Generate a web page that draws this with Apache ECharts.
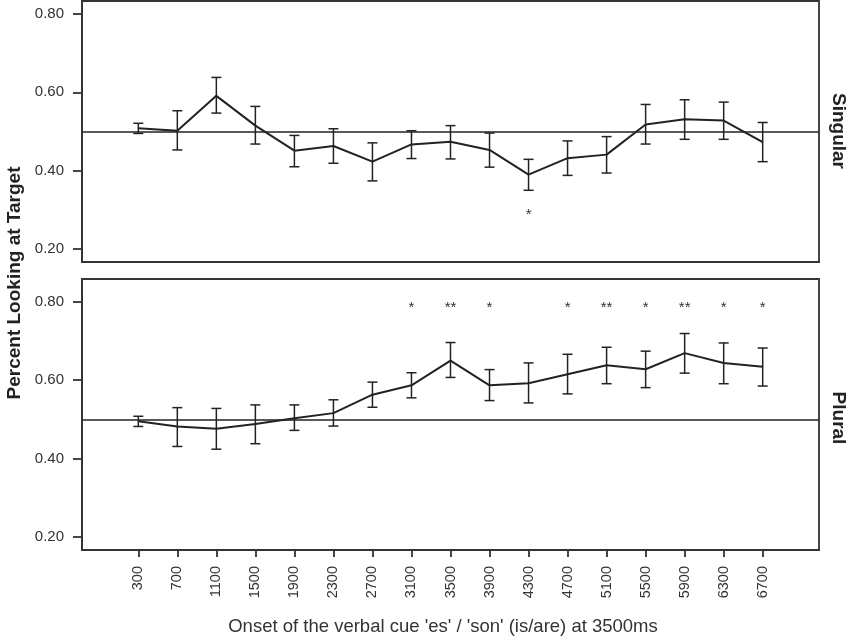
<!DOCTYPE html>
<html>
<head>
<meta charset="utf-8">
<script src="https://cdn.jsdelivr.net/npm/echarts@6/dist/echarts.min.js"></script>
<style>
  html, body { margin: 0; padding: 0; background: #fff; }
  #chart { width: 850px; height: 638px; }
</style>
</head>
<body>
<div id="chart"></div>
<script>
// Onset times (ms)
const times = [300, 700, 1100, 1500, 1900, 2300, 2700, 3100, 3500, 3900, 4300, 4700, 5100, 5500, 5900, 6300, 6700];

// Singular panel: mean and error-bar ends
const singularMean = [0.508, 0.502, 0.591, 0.515, 0.451, 0.463, 0.423, 0.467, 0.474, 0.453, 0.390, 0.432, 0.441, 0.518, 0.531, 0.528, 0.473];
const singularLow  = [0.495, 0.453, 0.547, 0.468, 0.410, 0.419, 0.374, 0.431, 0.430, 0.409, 0.350, 0.388, 0.394, 0.468, 0.480, 0.480, 0.423];
const singularHigh = [0.521, 0.553, 0.638, 0.564, 0.490, 0.507, 0.471, 0.502, 0.515, 0.496, 0.429, 0.476, 0.487, 0.569, 0.581, 0.575, 0.523];
const singularStars = ['', '', '', '', '', '', '', '', '', '', '*', '', '', '', '', '', ''];

// Plural panel
const pluralMean = [0.495, 0.482, 0.476, 0.488, 0.503, 0.516, 0.563, 0.587, 0.650, 0.587, 0.592, 0.615, 0.638, 0.628, 0.669, 0.644, 0.634];
const pluralLow  = [0.482, 0.431, 0.424, 0.438, 0.472, 0.483, 0.531, 0.555, 0.607, 0.548, 0.542, 0.565, 0.591, 0.581, 0.618, 0.591, 0.585];
const pluralHigh = [0.508, 0.530, 0.528, 0.537, 0.537, 0.550, 0.595, 0.619, 0.696, 0.627, 0.644, 0.666, 0.684, 0.674, 0.719, 0.695, 0.682];
const pluralStars = ['', '', '', '', '', '', '', '*', '**', '*', '', '*', '**', '*', '**', '*', '*'];

const yTicks = [0.2, 0.4, 0.6, 0.8];
const chanceLevel = 0.5;
const singularStarLevel = 0.289;
const pluralStarLevel = 0.787;

const FONT = "'Liberation Sans', Arial, sans-serif";
const INK = '#222';

const chart = echarts.init(document.getElementById('chart'));

function errorBarItem(params, api) {
    const x = api.value(0);
    const lo = api.coord([x, api.value(1)]);
    const hi = api.coord([x, api.value(2)]);
    const cap = 5;
    const style = { stroke: INK, lineWidth: 1.5 };
    return {
        type: 'group',
        children: [
            { type: 'line', shape: { x1: hi[0], y1: hi[1], x2: lo[0], y2: lo[1] }, style },
            { type: 'line', shape: { x1: hi[0] - cap, y1: hi[1], x2: hi[0] + cap, y2: hi[1] }, style },
            { type: 'line', shape: { x1: lo[0] - cap, y1: lo[1], x2: lo[0] + cap, y2: lo[1] }, style }
        ]
    };
}

// stars drawn as text above/below the points
function starSeries(idx, stars, level) {
    const keep = times.map((t, i) => i).filter(i => stars[i] !== '');
    const texts = keep.map(i => stars[i]);
    return {
        type: 'custom',
        xAxisIndex: idx,
        yAxisIndex: idx,
        encode: { x: 0, y: 1 },
        data: keep.map(i => [times[i], level]),
        z: 5,
        renderItem: (params, api) => {
            const p = api.coord([api.value(0), api.value(1)]);
            return {
                type: 'text',
                x: p[0],
                y: p[1] + 1,
                style: {
                    text: texts[params.dataIndex],
                    fill: '#333',
                    font: '15px ' + FONT,
                    align: 'center',
                    verticalAlign: 'middle'
                }
            };
        }
    };
}

function panelSeries(idx, mean, low, high, stars, starLevel) {
    return [
        {
            type: 'line',
            xAxisIndex: idx,
            yAxisIndex: idx,
            data: times.map((t, i) => [t, mean[i]]),
            symbol: 'none',
            lineStyle: { color: INK, width: 2 },
            z: 3,
            markLine: {
                silent: true,
                symbol: 'none',
                label: { show: false },
                lineStyle: { color: INK, width: 1.6, type: 'solid' },
                data: [{ yAxis: chanceLevel }]
            }
        },
        {
            type: 'custom',
            xAxisIndex: idx,
            yAxisIndex: idx,
            renderItem: errorBarItem,
            encode: { x: 0, y: [1, 2] },
            data: times.map((t, i) => [t, low[i], high[i]]),
            z: 4
        },
        starSeries(idx, stars, starLevel)
    ];
}

function yAxisFor(idx, max) {
    return {
        type: 'value',
        gridIndex: idx,
        min: 0.167,
        max: max,
        splitLine: { show: false },
        axisLine: { show: true, onZero: false, lineStyle: { color: '#333', width: 1.8 } },
        axisTick: { show: true, length: 9, customValues: yTicks, lineStyle: { color: '#333', width: 1.8 } },
        axisLabel: {
            customValues: yTicks,
            formatter: v => v.toFixed(2),
            margin: 18,
            color: '#333',
            fontSize: 15,
            fontFamily: FONT
        }
    };
}

function xAxisFor(idx, showLabels) {
    return {
        type: 'value',
        gridIndex: idx,
        min: -277,
        max: 7277,
        splitLine: { show: false },
        axisLine: { show: true, onZero: false, lineStyle: { color: '#333', width: 1.8 } },
        axisTick: { show: showLabels, length: 7, customValues: times, lineStyle: { color: '#333', width: 1.8 } },
        axisLabel: {
            show: showLabels,
            customValues: times,
            formatter: v => String(v),
            rotate: 90,
            margin: 16,
            color: '#333',
            fontSize: 14.5,
            fontFamily: FONT
        }
    };
}

const option = {
    backgroundColor: '#fff',
    animation: false,
    grid: [
        { left: 82, right: 31, top: 1, height: 261, show: true, borderColor: '#333', borderWidth: 1.8 },
        { left: 82, right: 31, top: 279, height: 271, show: true, borderColor: '#333', borderWidth: 1.8 }
    ],
    xAxis: [xAxisFor(0, false), xAxisFor(1, true)],
    yAxis: [yAxisFor(0, 0.833), yAxisFor(1, 0.858)],
    series: [
        ...panelSeries(0, singularMean, singularLow, singularHigh, singularStars, singularStarLevel),
        ...panelSeries(1, pluralMean, pluralLow, pluralHigh, pluralStars, pluralStarLevel)
    ],
    graphic: [
        {
            type: 'text', x: 15, y: 283, rotation: Math.PI / 2,
            style: { text: 'Percent Looking at Target', font: 'bold 19px ' + FONT, fill: INK, align: 'center', verticalAlign: 'middle' }
        },
        {
            type: 'text', x: 838, y: 131, rotation: -Math.PI / 2,
            style: { text: 'Singular', font: 'bold 19px ' + FONT, fill: INK, align: 'center', verticalAlign: 'middle' }
        },
        {
            type: 'text', x: 838, y: 418, rotation: -Math.PI / 2,
            style: { text: 'Plural', font: 'bold 19px ' + FONT, fill: INK, align: 'center', verticalAlign: 'middle' }
        },
        {
            type: 'text', x: 443, y: 627,
            style: { text: "Onset of the verbal cue 'es' / 'son' (is/are) at 3500ms", font: '18.5px ' + FONT, fill: '#333', align: 'center', verticalAlign: 'middle' }
        }
    ]
};

chart.setOption(option);
</script>
</body>
</html>
